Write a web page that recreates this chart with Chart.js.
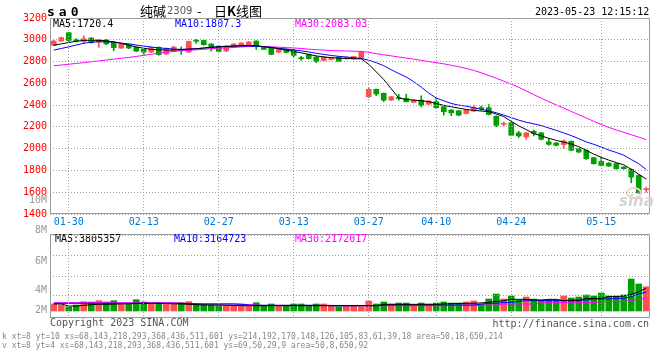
<!DOCTYPE html>
<html>
<head>
<meta charset="utf-8">
<title>纯碱2309 日K线图</title>
<script src="https://cdn.jsdelivr.net/npm/chart.js@4/dist/chart.umd.min.js"></script>
<style>
  body { margin: 0; background: #fff; }
  #wrap { position: relative; width: 660px; height: 360px; overflow: hidden; font: 10px "DejaVu Sans Mono", monospace; }
  canvas { position: absolute; left: 0; }
  .t { position: absolute; white-space: pre; line-height: 12px; }
  .gv { position: absolute; width: 1px; background: repeating-linear-gradient(to bottom, #a0a0a0 0 1px, transparent 1px 3px); }
  .gh { position: absolute; height: 1px; background: repeating-linear-gradient(to right, #a0a0a0 0 1px, transparent 1px 3px); }
  #dbg { position: absolute; left: 2px; top: 332px; font: 8px monospace; line-height: 9px; white-space: pre; color: #888; }
</style>
</head>
<body>
<div id="wrap">
  <canvas id="kline" width="660" height="232" style="top:0"></canvas>
  <canvas id="vol" width="660" height="134" style="top:226px"></canvas>

  <div class="t" style="left:47px;top:5px;font:bold 13px 'DejaVu Sans Mono';line-height:14px;letter-spacing:4px">sa0</div>
  <div class="t" style="left:140px;top:3px;font:13px 'Noto Sans CJK SC';line-height:15px">纯碱</div>
  <div class="t" style="left:167px;top:5px;font:10px 'DejaVu Sans';color:#555">2309</div>
  <div class="t" style="left:197px;top:3px;font:13px 'Noto Sans CJK SC';line-height:15px">-</div>
  <div class="t" style="left:214px;top:3px;font:13px 'Noto Sans CJK SC';line-height:15px">日<b>K</b>线图</div>
  <div class="t" style="left:535px;top:6px">2023-05-23 12:15:12</div>

  <div class="t" style="left:53px;top:18px;color:#000">MA5:1720.4</div>
  <div class="t" style="left:175px;top:18px;color:#00f">MA10:1807.3</div>
  <div class="t" style="left:295px;top:18px;color:#f0f">MA30:2083.03</div>

  <div class="t" style="left:55px;top:233px;color:#000">MA5:3805357</div>
  <div class="t" style="left:174px;top:233px;color:#00f">MA10:3164723</div>
  <div class="t" style="left:295px;top:233px;color:#f0f">MA30:2172017</div>

  <div class="t" style="right:613px;top:194px;color:#999">10M</div>
  <div class="t" style="right:613px;top:224px;color:#999">8M</div>
  <div class="t" style="right:613px;top:255px;color:#999">6M</div>
  <div class="t" style="right:613px;top:284px;color:#999">4M</div>
  <div class="t" style="right:613px;top:304px;color:#999">2M</div>

  <div style="position:absolute;left:626px;top:187px;width:12px;height:8px;border:2px solid #f5d0d0;border-radius:50%"></div>
  <div class="t" style="left:619px;top:194px;font:italic bold 15px 'DejaVu Sans';line-height:15px;color:#d4d4d4">sina</div>

  <div class="t" style="left:50px;top:317px;color:#555">Copyright 2023 SINA.COM</div>
  <div class="t" style="right:11px;top:318px;color:#555">http://finance.sina.com.cn</div>
  <div id="dbg"></div>
</div>

<script>
// trading days shown on the chart
const dates = ['01-19','01-20','01-30','01-31','02-01','02-02','02-03','02-06','02-07','02-08',
  '02-09','02-10','02-13','02-14','02-15','02-16','02-17','02-20','02-21','02-22',
  '02-23','02-24','02-27','02-28','03-01','03-02','03-03','03-06','03-07','03-08',
  '03-09','03-10','03-13','03-14','03-15','03-16','03-17','03-20','03-21','03-22',
  '03-23','03-24','03-27','03-28','03-29','03-30','03-31','04-03','04-04','04-06',
  '04-07','04-10','04-11','04-12','04-13','04-14','04-17','04-18','04-19','04-20',
  '04-21','04-24','04-25','04-26','04-27','04-28','05-04','05-05','05-08','05-09',
  '05-10','05-11','05-12','05-15','05-16','05-17','05-18','05-19','05-22','05-23'];

// dates that get a label and a vertical grid line
const tickDates = ['01-30','02-13','02-27','03-13','03-27','04-10','04-24','05-15'];

// price axis
const priceMin = 1400, priceMax = 3200, priceStep = 200;
const priceTicks = [1400, 1600, 1800, 2000, 2200, 2400, 2600, 2800, 3000, 3200];

// K line values
const open = [2949,2988,3065,3001,2985,3016,2979,2998,2979,2924,
  2955,2930,2912,2887,2930,2870,2896,2910,2887,2990,
  2994,2961,2942,2896,2933,2945,2945,2988,2936,2927,
  2887,2912,2903,2830,2863,2842,2810,2820,2842,2828,
  2825,2831,2477,2545,2508,2446,2464,2462,2425,2446,
  2409,2431,2385,2354,2348,2323,2345,2371,2376,2298,
  2223,2237,2145,2108,2160,2145,2062,2052,2037,2068,
  2000,1985,1917,1883,1868,1862,1831,1810,1754,1623];
const close = [2988,3019,2994,2988,3010,2973,3001,2962,2928,2958,
  2924,2896,2887,2930,2863,2921,2933,2902,2985,2986,
  2955,2924,2893,2942,2961,2970,2980,2942,2912,2866,
  2918,2884,2857,2826,2827,2802,2842,2835,2802,2838,
  2846,2886,2545,2502,2446,2477,2460,2431,2446,2400,
  2437,2376,2339,2329,2308,2354,2376,2367,2314,2215,
  2227,2123,2117,2145,2139,2086,2040,2031,2071,1985,
  1969,1908,1862,1846,1840,1816,1816,1739,1594,1627];
const high = [2995,3025,3068,3010,3037,3020,3005,3004,2985,2962,
  2960,2935,2918,2935,2935,2925,2940,2935,2988,3005,
  2998,2965,2948,2946,2965,2975,2984,2992,2940,2932,
  2922,2916,2908,2848,2868,2846,2846,2840,2846,2842,
  2850,2895,2560,2548,2512,2480,2500,2500,2450,2486,
  2441,2462,2390,2360,2352,2358,2400,2391,2406,2302,
  2246,2242,2160,2150,2170,2150,2092,2058,2080,2072,
  2005,1990,1922,1923,1872,1866,1836,1815,1760,1646];
const low = [2945,2985,2979,2980,2966,2968,2931,2955,2900,2920,
  2918,2890,2860,2882,2858,2865,2890,2866,2884,2968,
  2950,2896,2888,2892,2928,2940,2940,2912,2908,2862,
  2882,2880,2842,2810,2822,2790,2805,2815,2798,2820,
  2820,2828,2468,2486,2431,2442,2445,2428,2420,2385,
  2405,2370,2308,2302,2302,2318,2340,2354,2310,2200,
  2206,2118,2102,2086,2117,2080,2031,2025,2000,1980,
  1962,1900,1856,1840,1835,1810,1810,1686,1590,1600];

// moving averages as drawn
const ma5 = [2950,2962,2975,2986,2994,2996,2994,2990,2980,2966,
  2950,2935,2922,2912,2908,2905,2906,2910,2914,2918,
  2924,2930,2935,2938,2942,2946,2948,2945,2938,2928,
  2918,2905,2893,2880,2866,2852,2842,2836,2831,2828,
  2826,2825,2775,2705,2635,2550,2465,2452,2446,2440,
  2432,2415,2398,2385,2372,2360,2352,2346,2340,2318,
  2295,2250,2210,2175,2138,2118,2095,2076,2060,2042,
  2018,1985,1950,1920,1895,1872,1852,1810,1765,1720];
const ma10 = [2905,2920,2935,2952,2968,2978,2982,2982,2978,2970,
  2962,2952,2942,2933,2926,2920,2914,2912,2914,2918,
  2924,2932,2936,2940,2942,2942,2942,2940,2937,2930,
  2922,2915,2908,2898,2888,2876,2866,2856,2848,2842,
  2835,2828,2812,2790,2762,2725,2690,2658,2615,2565,
  2510,2465,2440,2415,2400,2390,2376,2362,2347,2330,
  2308,2285,2262,2243,2228,2212,2190,2168,2145,2120,
  2092,2062,2040,2015,1988,1965,1940,1900,1862,1807];
const ma30 = [2762,2768,2775,2783,2790,2798,2806,2814,2822,2830,
  2838,2847,2857,2867,2877,2886,2893,2899,2904,2908,
  2913,2918,2922,2926,2930,2934,2938,2939,2938,2935,
  2932,2928,2925,2920,2914,2909,2905,2901,2899,2897,
  2895,2893,2885,2872,2862,2852,2842,2832,2822,2811,
  2800,2790,2779,2766,2752,2737,2718,2697,2672,2647,
  2620,2592,2563,2530,2497,2463,2432,2402,2372,2342,
  2312,2282,2251,2222,2196,2172,2150,2128,2106,2083];

// volume and its moving averages
const volume = [1170000,1000000,700000,1000000,1560000,1500000,1720000,1500000,1720000,1170000,
  1170000,1890000,1500000,1170000,1170000,1170000,1170000,1390000,1560000,1110000,
  1110000,1000000,890000,890000,890000,890000,890000,1390000,890000,1170000,
  890000,890000,1170000,1170000,890000,1170000,1170000,890000,720000,890000,
  890000,720000,1670000,1170000,1500000,1170000,1330000,1330000,1110000,1330000,
  1170000,1330000,1500000,1330000,1330000,1500000,1670000,1170000,2000000,2830000,
  2000000,2500000,1830000,2330000,2000000,1830000,1830000,1830000,2500000,2170000,
  2330000,2670000,2500000,3000000,2500000,2500000,2670000,5330000,4500000,4030000];
const volMa5 = [1170000,1170000,830000,830000,950000,1050000,1110000,1110000,1150000,1200000,
  1200000,1250000,1280000,1280000,1280000,1250000,1200000,1170000,1110000,1060000,
  1000000,1000000,1000000,950000,920000,890000,890000,890000,890000,890000,
  890000,890000,890000,890000,890000,890000,890000,890000,890000,890000,
  890000,890000,890000,890000,1110000,1110000,1110000,1110000,1110000,1110000,
  1110000,1110000,1170000,1220000,1250000,1280000,1280000,1360000,1440000,1600000,
  1720000,1940000,1940000,1940000,1830000,1830000,1940000,1940000,1720000,1720000,
  1720000,2100000,2100000,2100000,2400000,2400000,2500000,2780000,3200000,3805357];
const volMa10 = [1280000,1280000,1280000,1280000,1280000,1280000,1280000,1280000,1280000,1280000,
  1280000,1280000,1280000,1280000,1280000,1280000,1280000,1250000,1220000,1200000,
  1170000,1170000,1170000,1170000,1170000,1100000,1000000,950000,950000,950000,
  950000,950000,950000,950000,950000,950000,920000,890000,890000,890000,
  890000,890000,890000,890000,950000,1000000,1000000,1000000,1000000,1000000,
  1000000,1000000,1000000,1000000,1000000,1000000,1000000,1150000,1280000,1280000,
  1440000,1440000,1600000,1720000,1720000,1720000,1720000,1720000,1720000,1830000,
  1830000,1830000,2000000,2000000,2000000,2100000,2100000,2400000,2830000,3164723];
const volMa30 = [1390000,1390000,1390000,1390000,1390000,1390000,1390000,1390000,1390000,1390000,
  1390000,1390000,1390000,1390000,1390000,1390000,1390000,1330000,1280000,1220000,
  1170000,1170000,1170000,1170000,1170000,1170000,1050000,1000000,940000,940000,
  940000,940000,940000,940000,940000,940000,940000,940000,890000,890000,
  890000,890000,890000,890000,890000,890000,890000,890000,890000,890000,
  890000,890000,890000,890000,890000,890000,890000,1000000,1000000,1000000,
  1170000,1170000,1170000,1170000,1170000,1390000,1390000,1390000,1390000,1390000,
  1390000,1390000,1390000,1560000,1560000,1560000,1560000,1830000,1900000,2172017];

// volume axis: range and the dotted lines
const volMin = -1166667, volMax = 12833333;
const volGrid = [2500000, 5833333, 9166667, 12500000];

const upColor = '#ff5050';
const downColor = '#00a000';
const candleColor = open.map((o, i) => close[i] >= o ? upColor : downColor);

Chart.defaults.font.family = 'DejaVu Sans Mono';
Chart.defaults.font.size = 10;

// grey frame round the plot area
const frame = {
  id: 'frame',
  afterDraw(chart) {
    const { ctx, chartArea: a } = chart;
    ctx.save();
    ctx.strokeStyle = '#999';
    ctx.lineWidth = 1;
    ctx.strokeRect(a.left + 0.5, a.top + 0.5, a.right - a.left - 1, a.bottom - a.top - 1);
    ctx.restore();
  }
};

const info = [];

// dotted grid lines placed at the chart's own pixels for the given values
function addGrid(name, chart, canvasTop, xValues, yValues) {
  const wrap = document.getElementById('wrap');
  const { chartArea: a, scales: { x, y } } = chart;
  const xs = xValues.map(v => Math.floor(x.getPixelForValue(v)));
  const ys = yValues.map(v => Math.floor(y.getPixelForValue(v)));
  xs.forEach(px => {
    const d = document.createElement('div');
    d.className = 'gv';
    d.style.left = px + 'px';
    d.style.top = (canvasTop + a.top) + 'px';
    d.style.height = (a.bottom - a.top) + 'px';
    wrap.appendChild(d);
  });
  ys.forEach(py => {
    const d = document.createElement('div');
    d.className = 'gh';
    d.style.left = a.left + 'px';
    d.style.top = (canvasTop + py) + 'px';
    d.style.width = (a.right - a.left) + 'px';
    wrap.appendChild(d);
  });
  info.push(name + ' xt=' + x.ticks.length + ' yt=' + y.ticks.length + ' xs=' + xs.join(',') +
    ' ys=' + ys.join(',') + ' area=' + [a.left, a.top, a.right, a.bottom].join(','));
}

function maLine(data, color) {
  return { type: 'line', data: data, borderColor: color, borderWidth: 1, pointRadius: 0, tension: 0, order: 0 };
}

function keepTickDates(scale) {
  scale.ticks = scale.ticks.filter(t => tickDates.includes(dates[t.value]));
}

const noGrid = { display: false, drawTicks: false };
const noBorder = { display: false };

const baseOptions = {
  responsive: false,
  animation: false,
  devicePixelRatio: 1,
  plugins: { legend: { display: false }, tooltip: { enabled: false } }
};

// price chart
const klineChart = new Chart(document.getElementById('kline'), {
  type: 'bar',
  data: {
    labels: dates,
    datasets: [
      maLine(ma5, '#000'),
      maLine(ma10, '#00f'),
      maLine(ma30, '#f0f'),
      { data: open.map((o, i) => [o, close[i]]), backgroundColor: candleColor,
        barThickness: 5, minBarLength: 1, grouped: false, order: 1 },
      { data: low.map((l, i) => [l, high[i]]), backgroundColor: candleColor,
        barThickness: 1, minBarLength: 1, grouped: false, order: 2 }
    ]
  },
  options: {
    ...baseOptions,
    layout: { padding: { top: 18, right: 10, left: 0, bottom: 0 } },
    scales: {
      x: {
        offset: true,
        grid: noGrid,
        border: noBorder,
        ticks: { autoSkip: false, maxRotation: 0, padding: 2, color: '#0078d0' },
        afterBuildTicks: keepTickDates,
        afterFit: s => { s.height = 18; }
      },
      y: {
        min: priceMin, max: priceMax,
        ticks: { stepSize: priceStep, color: '#f00', padding: 3, callback: v => String(v) },
        grid: noGrid,
        border: noBorder,
        afterFit: s => { s.width = 50; }
      }
    }
  },
  plugins: [frame]
});

// volume chart
const volChart = new Chart(document.getElementById('vol'), {
  type: 'bar',
  data: {
    labels: dates,
    datasets: [
      maLine(volMa5, '#000'),
      maLine(volMa10, '#00f'),
      maLine(volMa30, '#f0f'),
      { data: volume, backgroundColor: candleColor, barThickness: 6, grouped: false, order: 1 }
    ]
  },
  options: {
    ...baseOptions,
    layout: { padding: { top: 8, right: 10, left: 0, bottom: 42 } },
    scales: {
      x: {
        offset: true,
        grid: noGrid,
        border: noBorder,
        ticks: { display: false },
        afterBuildTicks: keepTickDates,
        afterFit: s => { s.height = 0; }
      },
      y: {
        min: volMin, max: volMax,
        ticks: { display: false },
        grid: noGrid,
        border: noBorder,
        afterBuildTicks: s => { s.ticks = volGrid.map(v => ({ value: v })); },
        afterFit: s => { s.width = 50; }
      }
    }
  },
  plugins: [frame]
});

const tickIndex = tickDates.map(d => dates.indexOf(d));
addGrid('k', klineChart, 0, tickIndex, priceTicks);
addGrid('v', volChart, 226, tickIndex, volGrid);
document.getElementById('dbg').textContent = info.join('\n');
</script>
</body>
</html>
